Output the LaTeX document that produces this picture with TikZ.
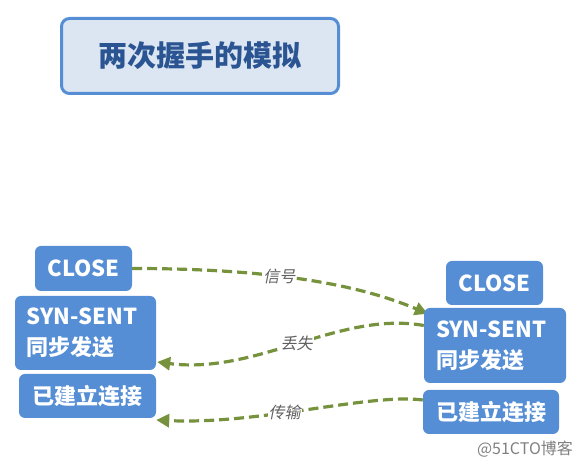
\documentclass[tikz,border=0pt]{standalone}
\usepackage{fontspec}
\setmainfont{Noto Sans CJK SC}
\newfontfamily\slantcjk{Noto Sans CJK SC}[FakeSlant=0.2]
\usepackage{xcolor}
\usetikzlibrary{arrows.meta,positioning}
\pgfdeclarelayer{background}
\pgfsetlayers{background,main}
\definecolor{boxblue}{HTML}{558ED5}
\definecolor{titlefill}{HTML}{DCE6F2}
\definecolor{titletext}{HTML}{2B5592}
\definecolor{arrowgreen}{HTML}{76923C}
\definecolor{labelgray}{HTML}{5F5F5F}
\definecolor{markgray}{HTML}{808080}
\tikzset{
    >={Triangle[length=13pt,width=13pt]},
    statebox/.style={
        rectangle,
        rounded corners=6pt,
        fill=boxblue,
        text=white,
        font={\fontsize{22pt}{31pt}\selectfont\bfseries},
        inner xsep=12pt, inner ysep=0pt
    },
    titlebox/.style={
        rectangle,
        rounded corners=8pt,
        fill=titlefill,
        draw=boxblue, line width=3pt,
        text=titletext,
        font={\fontsize{29pt}{34pt}\selectfont\bfseries}
    },
    signal/.style={draw=arrowgreen, line width=3.2pt, dash pattern=on 10pt off 5pt, ->},
    sigtext/.style={fill=white, text=labelgray, inner sep=1pt,
        font={\fontsize{16pt}{19pt}\slantcjk}},
}
\begin{document}
\begin{tikzpicture}[x=1pt,y=1pt]
\useasboundingbox (0,0) rectangle (582,465);
% title
\node[titlebox, minimum width=277pt, minimum height=75pt] (title) at (200,409) {两次握手的模拟};
% left side
\node[statebox, minimum width=97pt, minimum height=45pt] (lclose) at (83.5,196.5) {CLOSE};
\node[statebox, text width=117pt, minimum height=74pt, align=left] (lsyn) at (85.5,132) {SYN-SENT\\同步发送};
\node[statebox, minimum width=137pt, minimum height=44pt] (lest) at (87.5,69) {已建立连接};
% right side
\node[statebox, minimum width=97pt, minimum height=44pt] (rclose) at (494.5,182) {CLOSE};
\node[statebox, text width=118pt, minimum height=75pt, align=left] (rsyn) at (495,119.5) {SYN-SENT\\同步发送};
\node[statebox, minimum width=136pt, minimum height=44pt] (rest) at (491,53) {已建立连接};
\node[text=markgray, font={\fontsize{16pt}{18pt}\selectfont}] (mark) at (525,16) {@51CTO博客};
% signals
\begin{pgfonlayer}{background}
\draw[signal] (lclose.east) .. controls +(118,0) and +(-80,34) ..
    ([shift={(4pt,-6pt)}]rsyn.north west) node[sigtext, pos=0.45] {信号};
\draw[signal] ([yshift=20pt]rsyn.west) .. controls +(-84,15) and +(100,-13) ..
    ([shift={(1pt,-29pt)}]lsyn.east) node[sigtext, pos=0.5] {丢失};
\draw[signal] ([yshift=12pt]rest.west) .. controls +(-53,7) and +(102,-5) ..
    ([shift={(0pt,-24pt)}]lest.east) node[sigtext, pos=0.58] {传输};
\end{pgfonlayer}
\end{tikzpicture}
\end{document}
